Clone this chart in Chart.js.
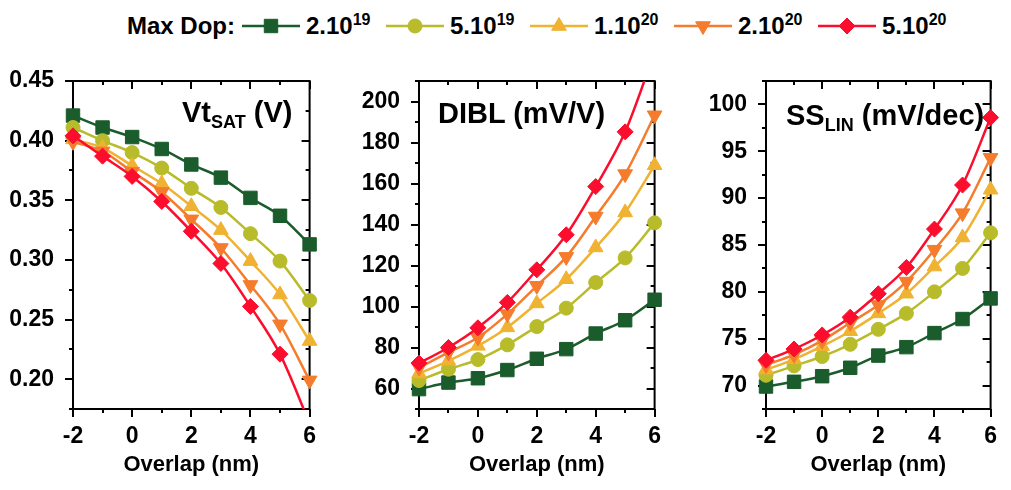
<!DOCTYPE html>
<html>
<head>
<meta charset="utf-8">
<script src="https://cdn.jsdelivr.net/npm/chart.js@4.4.1/dist/chart.umd.min.js"></script>
<style>
  body { margin: 0; background: #fff; width: 1011px; height: 490px; position: relative; overflow: hidden;
         font-family: "Liberation Sans", Arial, sans-serif; font-weight: bold; color: #000; }
  .panel { position: absolute; top: 0; height: 490px; }
  .ttl { position: absolute; font-size: 29px; line-height: 34px; white-space: nowrap; }
  .ttl sub { font-size: 18px; vertical-align: -6px; line-height: 0; }
  #legend { position: absolute; left: 127px; top: 11px; height: 30px; display: flex; align-items: center; font-size: 24px; }
  #legend .lab { width: 115px; flex: none; }
  .item { display: flex; align-items: center; width: 144px; flex: none; }
  .item canvas { margin-right: 6px; }
  .item sup { font-size: 16px; vertical-align: 9px; line-height: 0; }
</style>
</head>
<body>
<div id="legend"><span class="lab">Max Dop:</span></div>

<div class="panel" style="left:0;width:330px"><canvas id="vtChart" width="330" height="490"></canvas></div>
<div class="panel" style="left:335px;width:340px"><canvas id="diblChart" width="340" height="490"></canvas></div>
<div class="panel" style="left:680px;width:331px"><canvas id="ssChart" width="331" height="490"></canvas></div>

<div class="ttl" style="left:182px;top:95px">Vt<sub>SAT</sub> (V)</div>
<div class="ttl" style="left:438px;top:96px">DIBL (mV/V)</div>
<div class="ttl" style="left:786px;top:98px">SS<sub>LIN</sub> (mV/dec)</div>

<script>
// overlap values (x) shared by every panel
const overlap = [-2, -1, 0, 1, 2, 3, 4, 5, 6];
const xTicks = [-2, 0, 2, 4, 6];

// max doping series
const seriesBase = ['2.10', '5.10', '1.10', '2.10', '5.10'];
const seriesExp = ['19', '19', '20', '20', '20'];
const seriesColors = ['#1a5c2c', '#b8bb2a', '#f0b232', '#f47c2c', '#fb0d2e'];
const seriesMarkers = ['rect', 'circle', 'triangle', 'triangle', 'rectRot'];
const markerRotation = [0, 0, 0, 180, 0];
const markerRadius = [9.5, 7, 8.5, 8.5, 8];

// Vt_SAT (V)
const vtTicks = [0.20, 0.25, 0.30, 0.35, 0.40, 0.45];
const vtSat = [
  [0.421, 0.411, 0.403, 0.393, 0.380, 0.369, 0.352, 0.337, 0.313],
  [0.411, 0.400, 0.390, 0.377, 0.360, 0.344, 0.322, 0.299, 0.266],
  [0.401, 0.394, 0.379, 0.364, 0.345, 0.325, 0.299, 0.271, 0.232],
  [0.399, 0.391, 0.374, 0.357, 0.334, 0.310, 0.279, 0.246, 0.199],
  [0.404, 0.387, 0.370, 0.349, 0.324, 0.297, 0.261, 0.221, 0.163]
];

// DIBL (mV/V)
const diblTicks = [60, 80, 100, 120, 140, 160, 180, 200];
const dibl = [
  [59.7, 62.9, 65.0, 69.0, 74.5, 79.2, 86.8, 93.3, 103.3],
  [63.9, 69.4, 74.1, 81.3, 90.2, 99.2, 111.7, 123.7, 140.8],
  [67.3, 73.5, 80.8, 89.8, 101.5, 113.3, 128.8, 145.9, 168.9],
  [70.2, 77.6, 84.9, 96.3, 110.1, 124.2, 143.9, 164.6, 193.3],
  [72.4, 80.0, 89.6, 102.0, 117.9, 135.0, 158.5, 185.2, 224]
];

// SS_LIN (mV/dec)
const ssTicks = [70, 75, 80, 85, 90, 95, 100];
const ssLin = [
  [69.9, 70.4, 71.0, 71.9, 73.2, 74.1, 75.6, 77.1, 79.3],
  [71.1, 72.1, 73.1, 74.4, 76.0, 77.7, 80.0, 82.5, 86.3],
  [71.7, 72.8, 74.2, 75.8, 77.7, 79.8, 82.7, 85.8, 90.9],
  [72.2, 73.3, 74.8, 76.7, 78.6, 81.1, 84.5, 88.4, 94.3],
  [72.7, 73.9, 75.4, 77.3, 79.8, 82.6, 86.7, 91.4, 98.6]
];

const FONT = '"Liberation Sans", Arial, sans-serif';
Chart.defaults.font.family = FONT;
Chart.defaults.font.weight = 'bold';
Chart.defaults.color = '#000';

// box frame with origin-style ticks: out on left/bottom, in on top/right
const frameTicks = {
  id: 'frameTicks',
  beforeDatasetsDraw(chart) {
    const { ctx, chartArea: a, scales: { x, y } } = chart;
    const major = 8, minor = 4;
    const minors = (ticks, min, max) => {
      const step = ticks[1] - ticks[0];
      const out = [];
      for (let v = ticks[0] - step / 2; v <= max + 1e-9; v += step) {
        if (v >= min - 1e-9) out.push(v);
      }
      return out;
    };
    const xt = x.ticks.map(t => t.value), yt = y.ticks.map(t => t.value);
    ctx.save();
    ctx.strokeStyle = '#000';
    ctx.lineWidth = 2;
    ctx.beginPath();
    const hx = (v, len) => {
      const p = Math.round(x.getPixelForValue(v));
      ctx.moveTo(p, a.bottom); ctx.lineTo(p, a.bottom + len);
      ctx.moveTo(p, a.top); ctx.lineTo(p, a.top + len);
    };
    const vy = (v, len) => {
      const p = Math.round(y.getPixelForValue(v));
      ctx.moveTo(a.left, p); ctx.lineTo(a.left - len, p);
      ctx.moveTo(a.right, p); ctx.lineTo(a.right - len, p);
    };
    xt.forEach(v => hx(v, major));
    minors(xt, x.min, x.max).forEach(v => hx(v, minor));
    yt.forEach(v => vy(v, major));
    minors(yt, y.min, y.max).forEach(v => vy(v, minor));
    ctx.stroke();
    ctx.strokeRect(a.left, a.top, a.right - a.left, a.bottom - a.top);
    ctx.restore();
  }
};

function makePanel(id, values, yMin, yMax, yTicks, decimals, yWidth, padRight) {
  const datasets = values.map((vals, i) => ({
    label: seriesBase[i] + seriesExp[i],
    data: overlap.map((o, k) => ({ x: o, y: vals[k] })),
    borderColor: seriesColors[i],
    backgroundColor: seriesColors[i],
    borderWidth: 2.5,
    pointStyle: seriesMarkers[i],
    rotation: markerRotation[i],
    pointRadius: markerRadius[i],
    pointBorderWidth: 1,
    cubicInterpolationMode: 'monotone',
    clip: { left: 20, right: 20, top: 0, bottom: 0 },
    order: seriesBase.length - i
  }));

  return new Chart(document.getElementById(id), {
    type: 'line',
    data: { datasets },
    plugins: [frameTicks],
    options: {
      responsive: false,
      animation: false,
      devicePixelRatio: 1,
      layout: { padding: { top: 81, right: padRight, bottom: 8, left: 0 } },
      plugins: { legend: { display: false }, tooltip: { enabled: false } },
      scales: {
        x: {
          type: 'linear',
          min: -2,
          max: 6,
          grid: { display: false, drawTicks: false },
          border: { display: false },
          afterBuildTicks: s => { s.ticks = xTicks.map(v => ({ value: v })); },
          afterFit: s => { s.height = 73; },
          ticks: { font: { size: 23, weight: 'bold' }, padding: 14, maxRotation: 0, callback: v => String(v) },
          title: { display: true, text: 'Overlap (nm)', font: { size: 22, weight: 'bold' }, padding: { top: 0, bottom: 4 } }
        },
        y: {
          type: 'linear',
          min: yMin,
          max: yMax,
          grid: { display: false, drawTicks: false },
          border: { display: false },
          afterBuildTicks: s => { s.ticks = yTicks.map(v => ({ value: v })); },
          afterFit: s => { s.width = yWidth; },
          ticks: { font: { size: 23, weight: 'bold' }, padding: 19, callback: v => v.toFixed(decimals) }
        }
      }
    }
  });
}

makePanel('vtChart', vtSat, 0.175, 0.45, vtTicks, 2, 73, 20);
makePanel('diblChart', dibl, 50, 210, diblTicks, 0, 84, 20);
makePanel('ssChart', ssLin, 67.5, 102.5, ssTicks, 0, 86, 8);

// html legend with the same marker drawing as the chart
const legend = document.getElementById('legend');
seriesBase.forEach((base, i) => {
  const item = document.createElement('div');
  item.className = 'item';
  const c = document.createElement('canvas');
  c.width = 58; c.height = 24;
  const ctx = c.getContext('2d');
  ctx.strokeStyle = seriesColors[i];
  ctx.lineWidth = 2.5;
  ctx.beginPath(); ctx.moveTo(0, 12); ctx.lineTo(58, 12); ctx.stroke();
  ctx.fillStyle = seriesColors[i];
  ctx.lineWidth = 1;
  Chart.helpers.drawPoint(ctx, { pointStyle: seriesMarkers[i], rotation: markerRotation[i], radius: markerRadius[i], borderWidth: 1 }, 29, 12);
  item.appendChild(c);
  const t = document.createElement('span');
  t.innerHTML = base + '<sup>' + seriesExp[i] + '</sup>';
  item.appendChild(t);
  legend.appendChild(item);
});
</script>
</body>
</html>
